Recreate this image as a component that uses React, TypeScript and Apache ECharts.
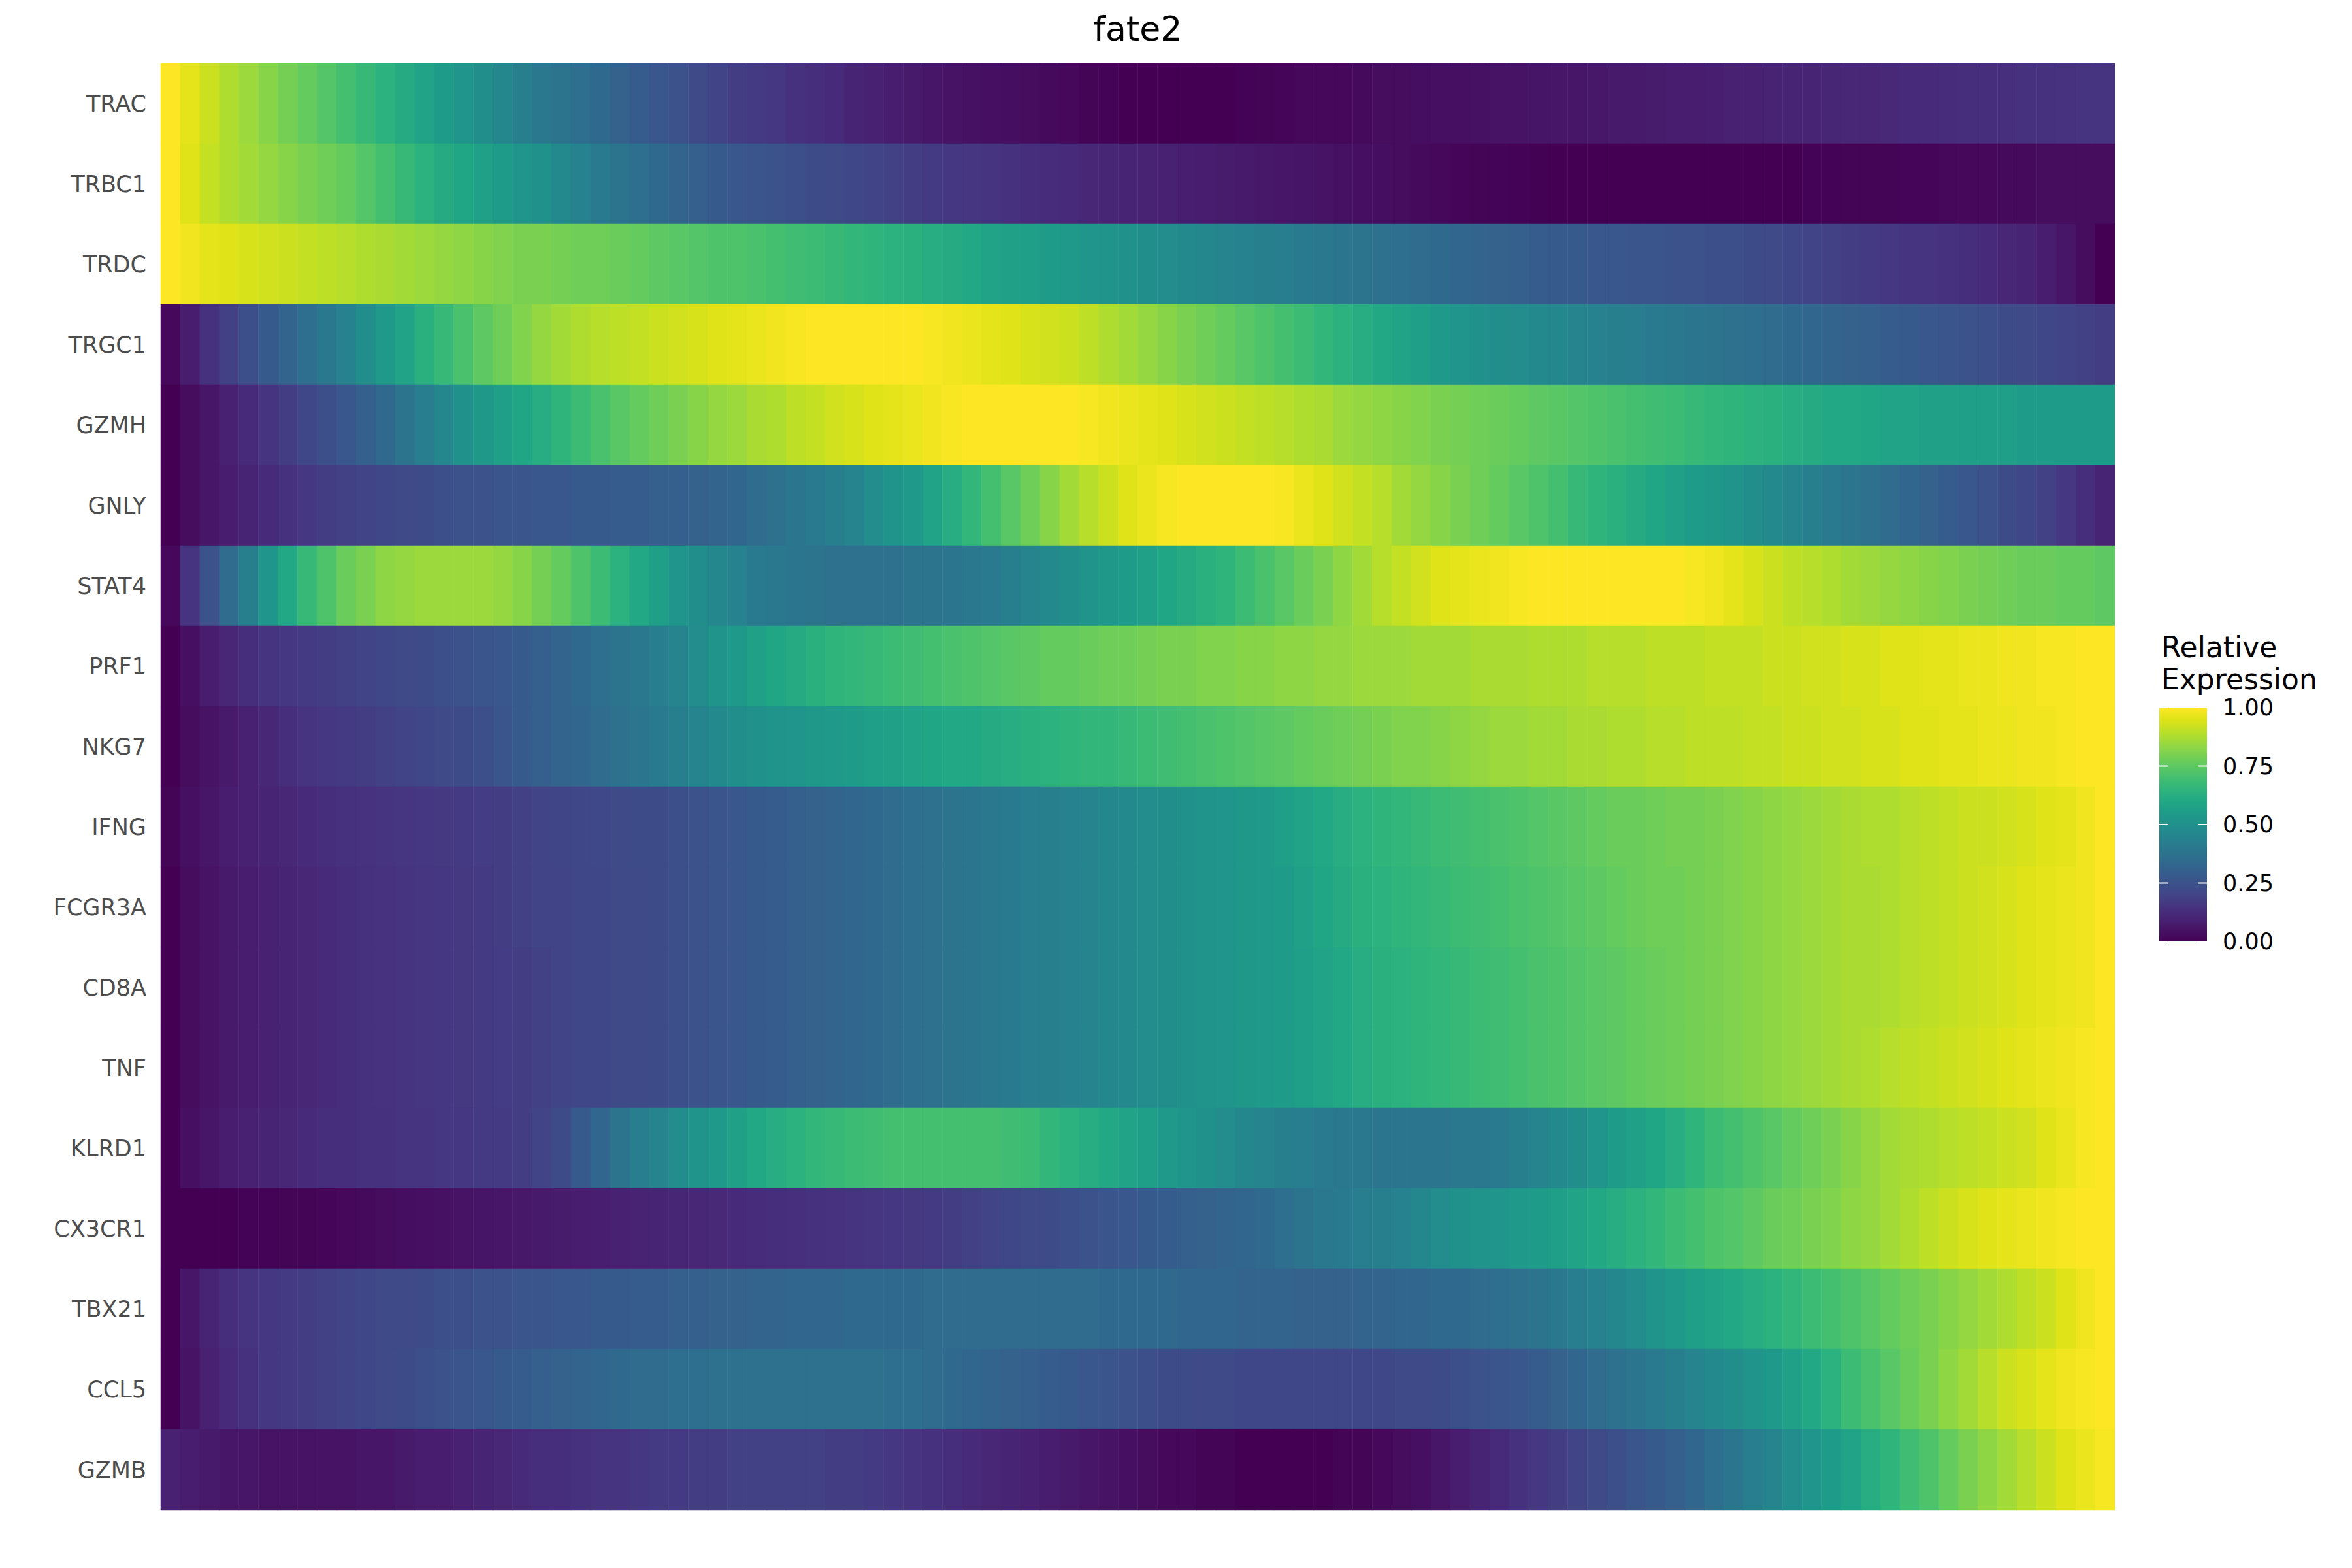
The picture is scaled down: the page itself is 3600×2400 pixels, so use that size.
import React, { useEffect, useRef } from "react";
import * as echarts from "echarts";

const TITLE = "fate2";
const LEGEND_TITLE = ["Relative", "Expression"];
const LEGEND_TICKS = [1, 0.75, 0.5, 0.25, 0];
const LEGEND_TICK_LABELS = ["1.00", "0.75", "0.50", "0.25", "0.00"];

const GENES = ["TRAC", "TRBC1", "TRDC", "TRGC1", "GZMH", "GNLY", "STAT4", "PRF1", "NKG7", "IFNG", "FCGR3A", "CD8A", "TNF", "KLRD1", "CX3CR1", "TBX21", "CCL5", "GZMB"];

const TRAC = [1.0,0.96,0.92,0.88,0.85,0.82,0.79,0.76,0.73,0.70,
0.67,0.64,0.61,0.58,0.55,0.52,0.49,0.46,0.43,0.40,
0.38,0.36,0.34,0.31,0.29,0.27,0.25,0.22,0.20,0.18,
0.17,0.16,0.14,0.13,0.12,0.10,0.09,0.08,0.07,0.06,
0.05,0.045,0.04,0.035,0.03,0.025,0.02,0.01,0.005,0.0,
0.0,0.0,0.0,0.0,0.0,0.005,0.01,0.015,0.02,0.02,
0.02,0.025,0.03,0.03,0.035,0.04,0.04,0.045,0.05,0.05,
0.055,0.06,0.06,0.065,0.07,0.07,0.075,0.08,0.08,0.085,
0.09,0.09,0.095,0.1,0.1,0.105,0.11,0.11,0.115,0.12,
0.12,0.125,0.13,0.13,0.135,0.14,0.14,0.145,0.15,0.15];

const TRBC1 = [1.0,0.95,0.91,0.88,0.86,0.84,0.82,0.80,0.78,0.76,
0.73,0.70,0.67,0.64,0.61,0.59,0.57,0.55,0.52,0.50,
0.47,0.44,0.41,0.38,0.36,0.34,0.32,0.30,0.28,0.27,
0.26,0.25,0.24,0.23,0.22,0.21,0.20,0.19,0.18,0.17,
0.16,0.155,0.15,0.14,0.13,0.125,0.12,0.11,0.105,0.10,
0.095,0.09,0.085,0.08,0.075,0.07,0.065,0.06,0.055,0.05,
0.045,0.04,0.035,0.03,0.025,0.02,0.015,0.01,0.008,0.005,
0.003,0.0,0.0,0.0,0.0,0.0,0.0,0.0,0.0,0.0,
0.0,0.0,0.0,0.0,0.005,0.005,0.01,0.01,0.01,0.015,
0.015,0.02,0.02,0.02,0.025,0.025,0.03,0.03,0.03,0.03];

const TRDC = [1.0,0.98,0.96,0.95,0.94,0.93,0.92,0.91,0.90,0.89,
0.88,0.87,0.86,0.85,0.84,0.83,0.82,0.81,0.80,0.80,
0.79,0.78,0.78,0.77,0.76,0.75,0.74,0.73,0.72,0.72,
0.71,0.70,0.69,0.68,0.67,0.66,0.65,0.64,0.63,0.62,
0.61,0.60,0.58,0.57,0.56,0.55,0.54,0.52,0.51,0.50,
0.49,0.48,0.47,0.46,0.45,0.44,0.43,0.42,0.41,0.40,
0.39,0.38,0.37,0.36,0.35,0.34,0.33,0.32,0.31,0.30,
0.29,0.28,0.28,0.27,0.27,0.26,0.26,0.25,0.25,0.24,
0.24,0.23,0.22,0.21,0.20,0.19,0.18,0.17,0.16,0.15,
0.15,0.14,0.13,0.12,0.11,0.10,0.08,0.06,0.03,0.0];

const TRGC1 = [0.02,0.08,0.14,0.19,0.24,0.28,0.32,0.36,0.40,0.44,
0.49,0.54,0.58,0.63,0.67,0.71,0.75,0.78,0.81,0.84,
0.86,0.88,0.89,0.90,0.91,0.92,0.93,0.94,0.95,0.96,
0.97,0.98,0.99,1.0,1.0,1.0,1.0,1.0,1.0,0.99,
0.98,0.97,0.96,0.95,0.94,0.93,0.92,0.90,0.88,0.86,
0.84,0.82,0.80,0.78,0.76,0.74,0.72,0.70,0.68,0.66,
0.64,0.62,0.60,0.58,0.56,0.54,0.52,0.50,0.49,0.48,
0.47,0.46,0.45,0.44,0.43,0.42,0.41,0.40,0.39,0.38,
0.37,0.36,0.35,0.34,0.33,0.32,0.31,0.30,0.29,0.28,
0.27,0.26,0.25,0.24,0.23,0.22,0.21,0.20,0.19,0.18];

const GZMH = [0.0,0.03,0.06,0.09,0.12,0.15,0.18,0.21,0.24,0.27,
0.30,0.34,0.38,0.42,0.46,0.50,0.53,0.56,0.59,0.62,
0.65,0.68,0.71,0.74,0.76,0.78,0.80,0.82,0.84,0.85,
0.87,0.88,0.90,0.91,0.93,0.94,0.95,0.96,0.97,0.98,
0.99,1.0,1.0,1.0,1.0,1.0,1.0,0.99,0.98,0.97,
0.96,0.95,0.94,0.93,0.92,0.91,0.90,0.89,0.88,0.87,
0.85,0.84,0.83,0.82,0.81,0.80,0.79,0.78,0.77,0.76,
0.75,0.74,0.73,0.72,0.71,0.70,0.69,0.68,0.67,0.66,
0.65,0.64,0.63,0.62,0.61,0.60,0.60,0.59,0.58,0.58,
0.57,0.57,0.56,0.56,0.56,0.55,0.55,0.55,0.55,0.55];

const GNLY = [0.0,0.03,0.06,0.08,0.10,0.12,0.14,0.16,0.18,0.19,
0.20,0.21,0.22,0.23,0.24,0.25,0.25,0.26,0.26,0.27,
0.27,0.28,0.28,0.29,0.29,0.30,0.30,0.31,0.32,0.33,
0.35,0.37,0.39,0.41,0.43,0.45,0.48,0.51,0.54,0.58,
0.62,0.66,0.70,0.74,0.78,0.82,0.86,0.89,0.92,0.95,
0.97,0.99,1.0,1.0,1.0,1.0,1.0,0.99,0.97,0.95,
0.93,0.91,0.89,0.86,0.84,0.82,0.80,0.78,0.76,0.74,
0.72,0.70,0.67,0.65,0.63,0.61,0.59,0.57,0.55,0.53,
0.51,0.49,0.47,0.45,0.43,0.41,0.39,0.37,0.35,0.33,
0.31,0.29,0.27,0.25,0.23,0.21,0.19,0.16,0.13,0.10];

const STAT4 = [0.02,0.15,0.25,0.35,0.43,0.52,0.60,0.67,0.72,0.77,
0.80,0.83,0.84,0.85,0.85,0.85,0.85,0.84,0.82,0.79,
0.76,0.72,0.68,0.64,0.60,0.56,0.52,0.49,0.46,0.44,
0.41,0.40,0.39,0.38,0.37,0.37,0.37,0.37,0.38,0.38,
0.39,0.40,0.41,0.43,0.45,0.47,0.49,0.51,0.53,0.55,
0.57,0.59,0.61,0.63,0.65,0.68,0.71,0.74,0.77,0.80,
0.83,0.86,0.89,0.91,0.93,0.95,0.96,0.97,0.98,0.99,
1.0,1.0,1.0,1.0,1.0,1.0,1.0,1.0,0.99,0.98,
0.96,0.94,0.92,0.90,0.89,0.88,0.86,0.85,0.84,0.83,
0.82,0.81,0.80,0.79,0.78,0.77,0.77,0.76,0.76,0.75];

const PRF1 = [0.0,0.04,0.08,0.11,0.13,0.15,0.16,0.17,0.18,0.19,
0.20,0.21,0.22,0.23,0.24,0.25,0.26,0.27,0.28,0.30,
0.32,0.34,0.36,0.38,0.40,0.42,0.45,0.48,0.51,0.54,
0.57,0.59,0.61,0.63,0.65,0.66,0.67,0.68,0.69,0.70,
0.71,0.72,0.73,0.74,0.75,0.76,0.76,0.77,0.78,0.78,
0.79,0.80,0.80,0.81,0.81,0.82,0.82,0.83,0.83,0.84,
0.84,0.85,0.85,0.85,0.86,0.86,0.86,0.87,0.87,0.87,
0.88,0.88,0.88,0.89,0.89,0.89,0.90,0.90,0.90,0.91,
0.91,0.91,0.92,0.92,0.93,0.93,0.94,0.94,0.95,0.95,
0.96,0.96,0.97,0.97,0.98,0.98,0.99,0.99,1.0,1.0];

const NKG7 = [0.0,0.03,0.05,0.07,0.09,0.11,0.13,0.15,0.16,0.17,
0.18,0.19,0.20,0.21,0.22,0.23,0.24,0.26,0.28,0.30,
0.32,0.33,0.35,0.37,0.39,0.41,0.43,0.45,0.47,0.49,
0.50,0.51,0.52,0.53,0.54,0.55,0.56,0.57,0.58,0.59,
0.60,0.60,0.61,0.62,0.63,0.64,0.65,0.66,0.66,0.67,
0.68,0.69,0.70,0.71,0.72,0.73,0.74,0.75,0.76,0.77,
0.78,0.79,0.80,0.81,0.81,0.82,0.83,0.84,0.85,0.85,
0.86,0.86,0.87,0.87,0.88,0.88,0.89,0.89,0.90,0.90,
0.90,0.91,0.91,0.92,0.92,0.93,0.93,0.94,0.94,0.95,
0.95,0.96,0.96,0.97,0.97,0.98,0.98,0.99,1.0,1.0];

const IFNG = [0.01,0.04,0.06,0.08,0.09,0.10,0.11,0.12,0.13,0.14,
0.145,0.15,0.155,0.16,0.165,0.17,0.175,0.18,0.19,0.20,
0.205,0.21,0.215,0.22,0.225,0.23,0.24,0.25,0.26,0.27,
0.28,0.29,0.30,0.31,0.32,0.33,0.34,0.35,0.36,0.37,
0.38,0.39,0.40,0.41,0.42,0.43,0.44,0.45,0.46,0.47,
0.48,0.49,0.50,0.51,0.52,0.53,0.54,0.56,0.58,0.60,
0.62,0.64,0.65,0.66,0.67,0.68,0.69,0.70,0.71,0.72,
0.73,0.74,0.75,0.76,0.77,0.77,0.78,0.79,0.79,0.80,
0.81,0.82,0.83,0.84,0.85,0.86,0.87,0.88,0.88,0.89,
0.90,0.91,0.92,0.92,0.93,0.94,0.95,0.96,0.98,1.0];

const FCGR3A = [0.0,0.03,0.05,0.07,0.08,0.09,0.10,0.11,0.12,0.13,
0.14,0.145,0.15,0.155,0.16,0.165,0.17,0.18,0.19,0.20,
0.20,0.21,0.21,0.22,0.22,0.23,0.24,0.25,0.26,0.27,
0.28,0.29,0.30,0.31,0.32,0.33,0.34,0.35,0.36,0.37,
0.38,0.39,0.40,0.41,0.42,0.43,0.44,0.45,0.46,0.47,
0.48,0.49,0.50,0.51,0.52,0.53,0.54,0.55,0.57,0.59,
0.61,0.63,0.64,0.65,0.66,0.67,0.68,0.69,0.70,0.71,
0.72,0.73,0.74,0.75,0.76,0.77,0.78,0.78,0.79,0.80,
0.81,0.82,0.83,0.84,0.85,0.86,0.87,0.87,0.88,0.89,
0.90,0.91,0.92,0.93,0.94,0.95,0.96,0.97,0.98,1.0];

const CD8A = [0.0,0.03,0.05,0.07,0.08,0.09,0.10,0.11,0.12,0.13,
0.14,0.145,0.15,0.155,0.16,0.165,0.17,0.175,0.18,0.19,
0.20,0.21,0.21,0.22,0.22,0.23,0.24,0.25,0.26,0.27,
0.28,0.29,0.30,0.31,0.32,0.33,0.34,0.35,0.36,0.37,
0.38,0.39,0.40,0.41,0.42,0.43,0.44,0.45,0.46,0.47,
0.48,0.49,0.50,0.51,0.52,0.53,0.54,0.55,0.56,0.58,
0.60,0.62,0.63,0.64,0.65,0.66,0.67,0.68,0.69,0.70,
0.71,0.72,0.73,0.74,0.75,0.76,0.77,0.78,0.79,0.80,
0.81,0.82,0.83,0.84,0.85,0.86,0.87,0.87,0.88,0.89,
0.90,0.91,0.92,0.93,0.94,0.95,0.96,0.97,0.98,1.0];

const TNF = [0.0,0.03,0.05,0.07,0.08,0.09,0.10,0.11,0.12,0.13,
0.14,0.145,0.15,0.155,0.16,0.165,0.17,0.175,0.18,0.19,
0.20,0.21,0.21,0.22,0.22,0.23,0.24,0.25,0.26,0.27,
0.28,0.29,0.30,0.31,0.32,0.33,0.34,0.35,0.36,0.37,
0.38,0.39,0.40,0.41,0.42,0.43,0.44,0.45,0.46,0.47,
0.48,0.49,0.50,0.51,0.52,0.53,0.54,0.55,0.56,0.58,
0.60,0.62,0.63,0.64,0.65,0.66,0.67,0.68,0.69,0.70,
0.71,0.72,0.73,0.74,0.75,0.76,0.77,0.78,0.79,0.80,
0.81,0.82,0.83,0.84,0.85,0.86,0.87,0.88,0.89,0.90,
0.91,0.92,0.93,0.94,0.95,0.96,0.97,0.98,0.99,1.0];

const KLRD1 = [0.0,0.04,0.06,0.08,0.09,0.10,0.11,0.12,0.13,0.13,
0.14,0.14,0.15,0.15,0.16,0.16,0.17,0.17,0.18,0.20,
0.23,0.28,0.33,0.38,0.42,0.45,0.48,0.51,0.54,0.57,
0.60,0.62,0.64,0.66,0.67,0.68,0.69,0.70,0.70,0.70,
0.70,0.70,0.70,0.69,0.68,0.66,0.64,0.62,0.60,0.58,
0.56,0.54,0.52,0.50,0.48,0.46,0.45,0.43,0.42,0.41,
0.40,0.40,0.39,0.39,0.39,0.39,0.40,0.40,0.41,0.43,
0.45,0.47,0.49,0.52,0.55,0.57,0.59,0.62,0.65,0.68,
0.70,0.72,0.74,0.76,0.78,0.80,0.82,0.84,0.86,0.87,
0.88,0.89,0.90,0.91,0.92,0.93,0.95,0.97,0.99,1.0];

const CX3CR1 = [0.0,0.0,0.0,0.0,0.005,0.005,0.01,0.01,0.015,0.02,
0.025,0.03,0.035,0.04,0.045,0.05,0.055,0.06,0.065,0.07,
0.075,0.08,0.085,0.09,0.095,0.10,0.105,0.11,0.115,0.12,
0.125,0.13,0.135,0.14,0.145,0.15,0.155,0.16,0.165,0.17,
0.18,0.19,0.20,0.21,0.22,0.23,0.24,0.25,0.26,0.27,
0.28,0.29,0.30,0.31,0.32,0.33,0.34,0.36,0.38,0.40,
0.41,0.42,0.43,0.44,0.46,0.48,0.50,0.51,0.52,0.54,
0.55,0.56,0.58,0.60,0.62,0.64,0.66,0.68,0.70,0.72,
0.73,0.75,0.77,0.78,0.80,0.81,0.83,0.84,0.86,0.88,
0.90,0.92,0.94,0.95,0.96,0.97,0.98,0.99,1.0,1.0];

const TBX21 = [0.0,0.06,0.10,0.13,0.15,0.16,0.17,0.18,0.19,0.20,
0.21,0.22,0.22,0.23,0.24,0.24,0.25,0.25,0.26,0.26,
0.27,0.27,0.28,0.28,0.29,0.29,0.30,0.30,0.31,0.31,
0.32,0.32,0.33,0.33,0.33,0.34,0.34,0.34,0.34,0.35,
0.35,0.35,0.35,0.35,0.35,0.35,0.35,0.35,0.34,0.34,
0.34,0.34,0.33,0.33,0.33,0.32,0.32,0.32,0.31,0.31,
0.31,0.32,0.32,0.33,0.33,0.34,0.34,0.35,0.36,0.37,
0.38,0.40,0.42,0.44,0.46,0.48,0.51,0.54,0.56,0.58,
0.60,0.62,0.64,0.66,0.68,0.70,0.72,0.74,0.76,0.78,
0.80,0.82,0.84,0.86,0.88,0.90,0.92,0.95,0.98,1.0];

const CCL5 = [0.0,0.05,0.09,0.12,0.14,0.16,0.17,0.18,0.19,0.20,
0.21,0.22,0.23,0.24,0.25,0.26,0.27,0.28,0.29,0.30,
0.31,0.32,0.33,0.34,0.35,0.35,0.36,0.36,0.37,0.37,
0.37,0.37,0.37,0.37,0.37,0.37,0.37,0.36,0.36,0.35,
0.34,0.33,0.32,0.31,0.30,0.29,0.28,0.27,0.26,0.25,
0.24,0.23,0.23,0.22,0.22,0.21,0.21,0.21,0.21,0.21,
0.21,0.21,0.21,0.22,0.22,0.23,0.24,0.25,0.26,0.27,
0.29,0.31,0.33,0.35,0.37,0.39,0.41,0.43,0.45,0.47,
0.49,0.51,0.54,0.57,0.60,0.64,0.68,0.71,0.74,0.77,
0.80,0.83,0.86,0.89,0.92,0.94,0.96,0.98,0.99,1.0];

const GZMB = [0.09,0.08,0.07,0.06,0.06,0.05,0.05,0.05,0.05,0.05,
0.06,0.06,0.07,0.08,0.08,0.09,0.10,0.11,0.12,0.13,
0.13,0.14,0.15,0.15,0.16,0.17,0.17,0.18,0.18,0.19,
0.19,0.19,0.19,0.19,0.18,0.18,0.17,0.16,0.15,0.14,
0.13,0.12,0.11,0.10,0.09,0.08,0.07,0.06,0.05,0.04,
0.03,0.02,0.02,0.01,0.01,0.0,0.0,0.0,0.0,0.0,
0.01,0.01,0.02,0.03,0.04,0.06,0.08,0.10,0.12,0.14,
0.16,0.18,0.20,0.22,0.24,0.26,0.28,0.30,0.33,0.36,
0.39,0.42,0.45,0.48,0.52,0.55,0.58,0.62,0.65,0.69,
0.72,0.76,0.80,0.83,0.86,0.89,0.92,0.95,0.97,0.99];

const GENE_VALUES = [TRAC, TRBC1, TRDC, TRGC1, GZMH, GNLY, STAT4, PRF1, NKG7, IFNG, FCGR3A, CD8A, TNF, KLRD1, CX3CR1, TBX21, CCL5, GZMB];

const VIRIDIS = ["#440154", "#471365", "#482475", "#463480", "#414487", "#3b528b", "#355f8d", "#2f6c8e", "#2a788e", "#25848e", "#21918c", "#1e9c89", "#22a884", "#2fb47c", "#44bf70", "#5ec962", "#7ad151", "#9bd93c", "#bddf26", "#dfe318", "#fde725"];

const FONT = "DejaVu Sans";

export default function App() {
  const ref = useRef<HTMLDivElement>(null);

  useEffect(() => {
    if (!ref.current) return;
    const chart = echarts.init(ref.current, null, { renderer: "svg" });

    const nCols = TRAC.length;
    const bins = Array.from({ length: nCols }, (_, i) => String(i + 1));
    const data: number[][] = [];
    GENE_VALUES.forEach((vals, gi) => {
      vals.forEach((v, xi) => data.push([xi, gi, v]));
    });

    const gridLeft = 246;
    const gridRight = 363;
    const gridTop = 97;
    const gridBottom = 89;
    const plotCenter = gridLeft + (3600 - gridLeft - gridRight) / 2;

    const barX = 3305;
    const barY = 1083;
    const barW = 73;
    const barH = 358;

    const gradStops = VIRIDIS.map((c, i) => ({ offset: 1 - i / (VIRIDIS.length - 1), color: c })).reverse();

    const legendElems: any[] = [
      {
        type: "rect",
        shape: { x: barX, y: barY, width: barW, height: barH },
        style: { fill: new echarts.graphic.LinearGradient(0, 0, 0, 1, gradStops) },
        z: 10,
      },
    ];
    LEGEND_TICKS.forEach((t, i) => {
      const y = barY + (1 - t) * barH;
      legendElems.push({
        type: "line",
        shape: { x1: barX, y1: y, x2: barX + 14, y2: y },
        style: { stroke: "#ffffff", lineWidth: 2 },
        z: 11,
      });
      legendElems.push({
        type: "line",
        shape: { x1: barX + barW - 14, y1: y, x2: barX + barW, y2: y },
        style: { stroke: "#ffffff", lineWidth: 2 },
        z: 11,
      });
      legendElems.push({
        type: "text",
        style: {
          text: LEGEND_TICK_LABELS[i],
          x: 3402,
          y,
          textAlign: "left",
          textVerticalAlign: "middle",
          fontSize: 35,
          fontFamily: FONT,
          fill: "#000000",
        },
        z: 11,
      });
    });
    LEGEND_TITLE.forEach((line, i) => {
      legendElems.push({
        type: "text",
        style: {
          text: line,
          x: 3308,
          y: 990 + i * 49,
          textAlign: "left",
          textVerticalAlign: "middle",
          fontSize: 44,
          fontFamily: FONT,
          fill: "#000000",
        },
        z: 11,
      });
    });

    chart.setOption({
      animation: false,
      backgroundColor: "#ffffff",
      grid: { left: gridLeft, right: gridRight, top: gridTop, bottom: gridBottom, containLabel: false },
      xAxis: {
        type: "category",
        data: bins,
        show: false,
        splitArea: { show: false },
      },
      yAxis: {
        type: "category",
        data: GENES,
        inverse: true,
        axisLine: { show: false },
        axisTick: { show: false },
        splitLine: { show: false },
        axisLabel: { fontSize: 35, color: "#4d4d4d", fontFamily: FONT, margin: 22 },
      },
      visualMap: {
        type: "continuous",
        min: 0,
        max: 1,
        show: false,
        inRange: { color: VIRIDIS },
      },
      graphic: [
        {
          type: "text",
          style: {
            text: TITLE,
            x: plotCenter,
            y: 44,
            textAlign: "center",
            textVerticalAlign: "middle",
            fontSize: 52,
            fontFamily: FONT,
            fill: "#000000",
          },
        },
        ...legendElems,
      ],
      series: [
        {
          type: "heatmap",
          data,
          itemStyle: { borderWidth: 0 },
          emphasis: { disabled: true },
        },
      ],
    });

    return () => chart.dispose();
  }, []);

  return (
    <div
      ref={ref}
      style={{ position: "fixed", left: 0, top: 0, width: 3600, height: 2400, background: "#ffffff" }}
    />
  );
}
